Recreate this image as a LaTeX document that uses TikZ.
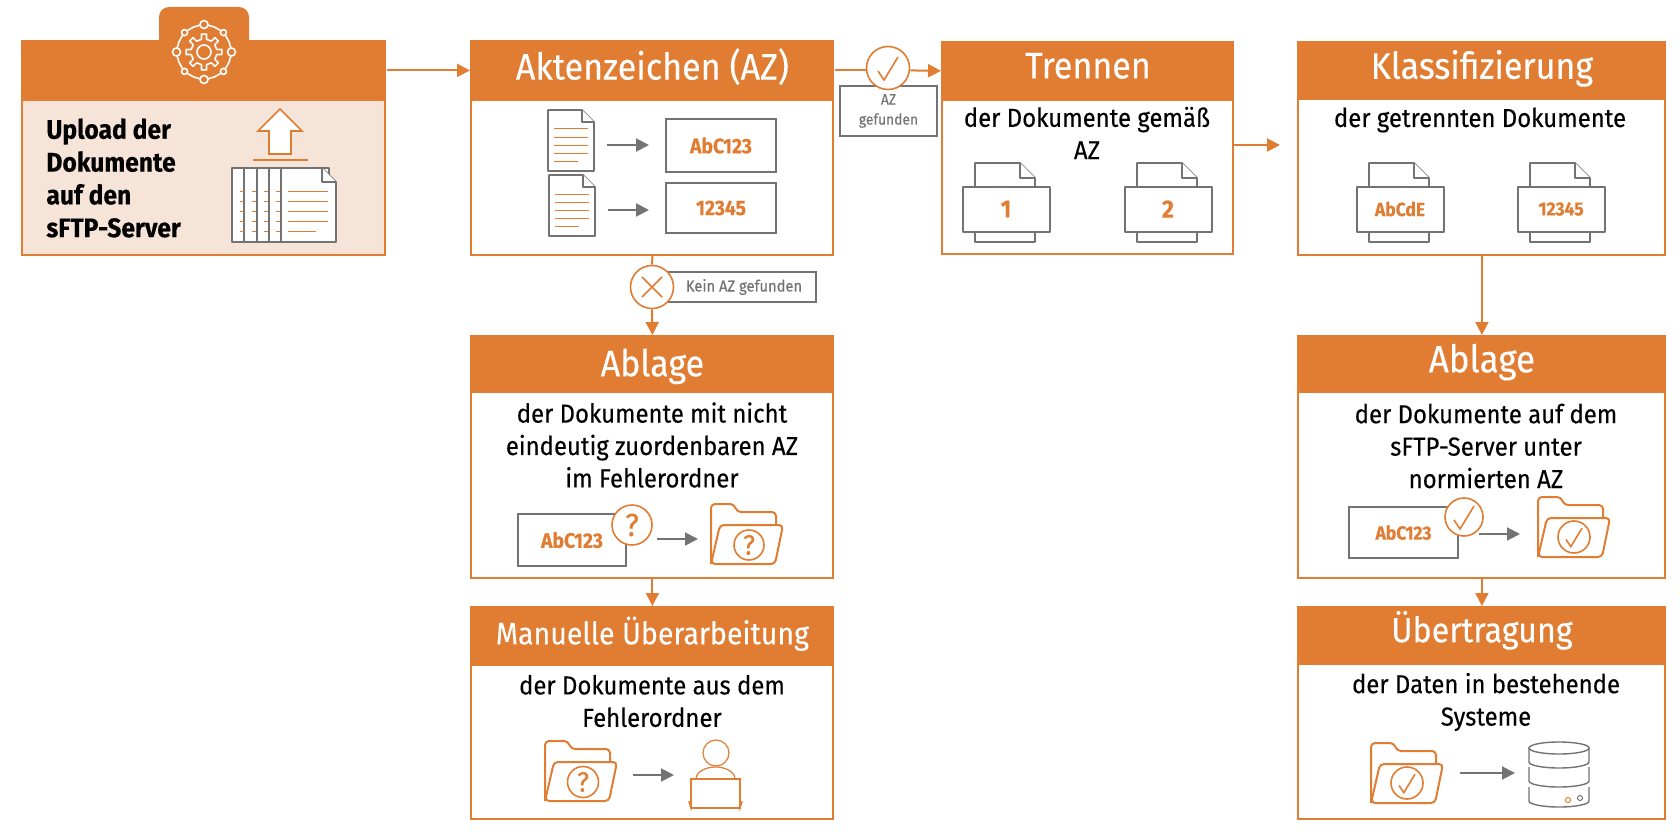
\documentclass[tikz,border=0pt]{standalone}
\usepackage{fontspec}
\setmainfont[FakeStretch=0.92,FakeBold=0.25]{Fira Sans}
\usetikzlibrary{positioning,arrows.meta}

\definecolor{orangeM}{HTML}{E07D33}
\definecolor{peach}{HTML}{F6E4D8}
\definecolor{grayM}{HTML}{737373}

% title set on a baseline at a given distance from the middle of its head
\newcommand{\headline}[2]{\raisebox{#1}[0pt][0pt]{#2}}

\tikzset{
  headbox/.style={fill=orangeM,text=white,inner sep=0pt,anchor=north west,minimum width=182pt,minimum height=30pt},
  bodybox/.style={draw=orangeM,line width=1pt,fill=white,inner sep=0pt,minimum width=181pt},
  titletext/.style={font=\fontsize{18.5}{20}\selectfont},
  bodytext/.style={align=center,inner sep=0pt,font=\fontsize{13}{16.2}\selectfont},
  flow/.style={draw=orangeM,line width=1pt,-{Triangle[length=6.5pt,width=6.5pt]}},
  plainflow/.style={draw=orangeM,line width=1pt},
  grayflow/.style={draw=grayM,line width=1pt,-{Triangle[length=6.5pt,width=6.5pt]}},
  azbox/.style={draw=grayM,line width=1pt,fill=white,inner sep=0pt,text=orangeM,font=\bfseries\fontsize{10.5}{12}\selectfont},
  notebox/.style={draw=grayM,line width=1pt,fill=white,inner sep=0pt,text=grayM,align=center,font=\fontsize{7.5}{10}\selectfont},
  sigcircle/.style={circle,draw=orangeM,line width=0.8pt,fill=white,inner sep=0pt,text=orangeM},
  iconline/.style={draw=grayM,line width=0.8pt,fill=white,line join=round},
  pics/docsheet/.style={code={
    \draw[iconline] (0,0) -- (34,0) -- (46,12) -- (46,61) -- (0,61) -- cycle;
    \draw[iconline] (34,0) -- (34,12) -- (46,12);
    \foreach \yy/\xx in {19/34,27/34,35/34,43/34,51/24}
      \draw[orangeM,line width=0.5pt] (6,\yy) -- (6+\xx,\yy);
    \coordinate (-out) at (59,35);
  }},
  pics/printsheet/.style={code={
    \draw[iconline] (12,-24) -- (57,-24) -- (72,-9) -- (72,55) -- (12,55) -- cycle;
    \draw[iconline] (57,-24) -- (57,-9) -- (72,-9);
    \draw[iconline,line width=1pt] (0,0) rectangle (87,45);
  }},
  pics/folderM/.style={code={
    \draw[orangeM,line width=1pt,rounded corners=2pt,line join=round] (0,60) -- (0,0) -- (23,0) -- (26,8) -- (65,8) -- (65,21);
    \draw[orangeM,line width=1pt,rounded corners=2pt,line join=round,fill=white] (0,60) -- (9,21) -- (72,21) -- (64,60) -- cycle;
  }},
  pics/checkM/.style={code={
    \draw[orangeM,line width=0.8pt] (-10,3) -- (-4,12) -- (10,-11);
  }},
}

\begin{document}
\begin{tikzpicture}[x=0.5pt,y=-0.5pt]
\useasboundingbox (0,0) rectangle (1680,840);

% upload
\draw[fill=orangeM,draw=none,rounded corners=5pt] (159,50) -- (159,7) -- (249,7) -- (249,50) -- cycle;
\node[headbox,minimum width=182.5pt] (uploadHead) at (21,40) {};
\node[bodybox,fill=peach,minimum width=181.5pt,minimum height=77.5pt,below=-1pt of uploadHead] (uploadBody) {};
\node[anchor=west,inner sep=0pt,align=left,font=\bfseries\fontsize{13.4}{16.4}\selectfont] (uploadText) at (46,178) {Upload der\\Dokumente\\auf den\\sFTP-Server};

% gear icon
\begin{scope}[shift={(204,52)},draw=white,line width=0.8pt]
\draw (0,0) circle (7);
\draw (0,0) circle (27);
\draw[line join=round] (0,0) \foreach \aa in {0,45,...,315} {
  (\aa-11:13) -- (\aa-8:18) -- (\aa+8:18) -- (\aa+11:13) -- (\aa+34:13) };
\foreach \aa in {0,90,180,270}
  \filldraw[fill=orangeM] (\aa:27.5) circle (4);
\foreach \aa in {45,135,225,315}
  \filldraw[fill=orangeM] (\aa:27.5) circle (3);
\end{scope}

% upload arrow and pages
\draw[orangeM,line width=0.8pt,fill=white,line join=miter] (280,109) -- (302,131) -- (291,131) -- (291,154) -- (269,154) -- (269,131) -- (258,131) -- cycle;
\draw[orangeM,line width=0.8pt] (253,160) -- (308,160);
\foreach \xa in {232,244,257,269}
  \draw[iconline] (\xa,168) rectangle (\xa+60,242);
\draw[iconline] (281,168) -- (322,168) -- (336,182) -- (336,242) -- (281,242) -- cycle;
\draw[iconline] (322,168) -- (322,182) -- (336,182);
\foreach \ya/\xb in {191/328,201/328,211/328,221/328,231/316} {
  \draw[orangeM,line width=0.5pt] (288,\ya) -- (\xb,\ya);
  \foreach \xa in {240,252,264,276}
    \draw[orangeM,line width=0.5pt] (\xa,\ya) -- (\xa+4,\ya);
}

% aktenzeichen
\node[headbox,titletext] (aktenHead) at (470,40) {\headline{-4.6pt}{Aktenzeichen (AZ)}};
\node[bodybox,minimum height=77.5pt,below=-1pt of aktenHead] (aktenBody) {};
\pic (docA) at (548,110) {docsheet};
\pic (docB) at (549,175) {docsheet};
\node[azbox,minimum width=55pt,minimum height=26.5pt,anchor=north west] (azA) at (665,118) {AbC123};
\node[azbox,minimum width=55pt,minimum height=25pt,anchor=north west] (azB) at (665,182) {12345};
\draw[grayflow,shorten >=8pt] (docA-out) -- (azA.west |- docA-out);
\draw[grayflow,shorten >=8pt] (docB-out) -- (azB.west |- docB-out);

% found
\node[notebox,minimum width=48.5pt,minimum height=25pt,anchor=north west] (foundNote) at (839,85) {AZ\\gefunden};
\node[sigcircle,minimum size=21.5pt] (okCircle) at (888,68) {};
\pic at (okCircle.center) {checkM};

% trennen
\node[headbox,titletext,minimum width=146.5pt,minimum height=29.5pt] (trennenHead) at (941,41) {\headline{-3.75pt}{Trennen}};
\node[bodybox,minimum width=145.5pt,minimum height=77pt,below=-1pt of trennenHead] (trennenBody) {};
\node[bodytext] (trennenText) at (1087,133) {der Dokumente gemäß\\AZ};
\pic at (963,187) {printsheet};
\pic at (1125,187) {printsheet};
\node[text=orangeM,inner sep=0pt,font=\bfseries\fontsize{12.5}{14}\selectfont] (numA) at (1006,209) {1};
\node[text=orangeM,inner sep=0pt,font=\bfseries\fontsize{12.5}{14}\selectfont] (numB) at (1168,209) {2};
\coordinate (splitOut) at (1233,145);
\coordinate (splitEnd) at (1280,145);

% klassifizierung
\node[headbox,titletext,minimum width=184.5pt,minimum height=29pt] (klassHead) at (1297,41) {\headline{-4.2pt}{Klassifizierung}};
\node[bodybox,minimum width=183.5pt,minimum height=78pt,below=-1pt of klassHead] (klassBody) {};
\node[bodytext] (klassText) at (1480,120) {der getrennten Dokumente};
\pic at (1357,187) {printsheet};
\pic at (1518,187) {printsheet};
\node[text=orangeM,inner sep=0pt,font=\bfseries\fontsize{9.5}{11}\selectfont] (codeA) at (1400,209) {AbCdE};
\node[text=orangeM,inner sep=0pt,font=\bfseries\fontsize{9.5}{11}\selectfont] (codeB) at (1561,209) {12345};

% kein az
\node[notebox,font=\fontsize{8}{10}\selectfont,minimum width=79pt,minimum height=15pt,anchor=east] (missNote) at (817,287) {\hspace*{7pt}Kein AZ gefunden};
\node[sigcircle,minimum size=21.5pt] (noCircle) at (652,287) {};
\draw[orangeM,line width=0.8pt] (642,277) -- (662,297) (642,297) -- (662,277);

% ablage links
\node[headbox,titletext,minimum height=28.5pt] (ablageHead) at (470,335) {\headline{-6.2pt}{Ablage}};
\node[bodybox,minimum height=93pt,below=-1pt of ablageHead] (ablageBody) {};
\node[bodytext] (ablageText) at (652,445) {der Dokumente mit nicht\\eindeutig zuordenbaren AZ\\im Fehlerordner};
\node[azbox,minimum width=54pt,minimum height=26pt,anchor=north west] (ablageCode) at (517,513) {AbC123};
\node[sigcircle,minimum size=20pt,font=\fontsize{16}{16}\selectfont] (ablageMark) at (632,525) {?};
\pic at (711,504) {folderM};
\node[sigcircle,minimum size=15pt,font=\fontsize{14}{14}\selectfont] (ablageSign) at (749,545) {?};
\coordinate (ablageOut) at (657,539);
\coordinate (ablageIn) at (698,539);
\draw[grayflow] (ablageOut) -- (ablageIn);

% manuell
\node[headbox,titletext,font=\fontsize{15.5}{18}\selectfont,minimum height=29.5pt] (manuellHead) at (470,606) {\headline{-4.2pt}{Manuelle Überarbeitung}};
\node[bodybox,minimum height=77pt,below=-1pt of manuellHead] (manuellBody) {};
\node[bodytext] (manuellText) at (652,701) {der Dokumente aus dem\\Fehlerordner};
\pic at (545,741) {folderM};
\node[sigcircle,minimum size=15.5pt,font=\fontsize{14}{14}\selectfont] (manuellSign) at (583,782) {?};
\node[circle,draw=orangeM,line width=0.6pt,minimum size=13pt,inner sep=0pt] (worker) at (716,753) {};
\draw[orangeM,line width=0.6pt] (696,779) arc (180:360:19.5 and 12);
\draw[orangeM,line width=0.7pt,line join=miter] (691,779) -- (691,808) -- (740,808) -- (740,779) -- cycle;
\draw[orangeM,line width=0.7pt,fill=orangeM] (689,802) -- (691,802) -- (691,807.5) -- cycle (742,802) -- (740,802) -- (740,807.5) -- cycle;
\coordinate (workerOut) at (633,775);
\coordinate (workerIn) at (674,775);
\draw[grayflow] (workerOut) -- (workerIn);

% ablage rechts
\node[headbox,titletext,font=\fontsize{19}{20}\selectfont,minimum width=184.5pt,minimum height=28.5pt] (normHead) at (1297,335) {\headline{-4.2pt}{Ablage}};
\node[bodybox,minimum width=183.5pt,minimum height=93pt,below=-1pt of normHead] (normBody) {};
\node[bodytext] (normText) at (1486,446) {der Dokumente auf dem\\sFTP-Server unter\\normierten AZ};
\node[azbox,font=\bfseries\fontsize{9.5}{11}\selectfont,minimum width=54.5pt,minimum height=25.5pt,anchor=north west] (normCode) at (1348,506) {AbC123};
\node[sigcircle,minimum size=19pt] (normMark) at (1464,517) {};
\pic at (normMark.center) {checkM};
\pic at (1538,497) {folderM};
\node[sigcircle,minimum size=16pt] (normSign) at (1574,537) {};
\pic[scale=0.8] at (normSign.center) {checkM};
\coordinate (normOut) at (1479,534);
\coordinate (normIn) at (1520,534);
\draw[grayflow] (normOut) -- (normIn);

% uebertragung
\node[headbox,titletext,font=\fontsize{17.5}{20}\selectfont,minimum width=184.5pt,minimum height=29pt] (transHead) at (1297,606) {\headline{-3.4pt}{Übertragung}};
\node[bodybox,minimum width=183.5pt,minimum height=77.5pt,below=-1pt of transHead] (transBody) {};
\node[bodytext] (transText) at (1486,702) {der Daten in bestehende\\Systeme};
\pic at (1371,743) {folderM};
\node[sigcircle,minimum size=16pt] (transSign) at (1407,783) {};
\pic[scale=0.8] at (transSign.center) {checkM};
\coordinate (transOut) at (1460,773);
\coordinate (transIn) at (1515,773);
\draw[grayflow] (transOut) -- (transIn);

% database
\begin{scope}[draw=grayM,line width=0.7pt]
\draw (1559,748) ellipse (30 and 6);
\draw (1529,748) -- (1529,762) arc (180:0:30 and 6) -- (1589,748);
\draw (1529,767) -- (1529,781) arc (180:0:30 and 6) -- (1589,767);
\draw (1529,787) -- (1529,801) arc (180:0:30 and 6) -- (1589,787);
\draw[draw=orangeM,line width=0.5pt] (1568,800) circle (2.5);
\draw[line width=0.5pt] (1580,798) circle (2.5);
\end{scope}

% connectors
\draw[flow] (uploadHead.east) -- (aktenHead.west);
\draw[plainflow] (aktenHead.east) -- (okCircle.west |- aktenHead.east);
\draw[flow] (okCircle.east |- aktenHead.east) -- (trennenHead.west);
\draw[flow] (splitOut) -- (splitEnd);
\draw[plainflow] (aktenBody.south) -- (noCircle.north);
\draw[flow] (noCircle.south) -- (ablageHead.north);
\draw[flow] (ablageBody.south) -- (manuellHead.north);
\draw[flow] (klassBody.south) -- (normHead.north);
\draw[flow] (normBody.south) -- (transHead.north);
\end{tikzpicture}
\end{document}
